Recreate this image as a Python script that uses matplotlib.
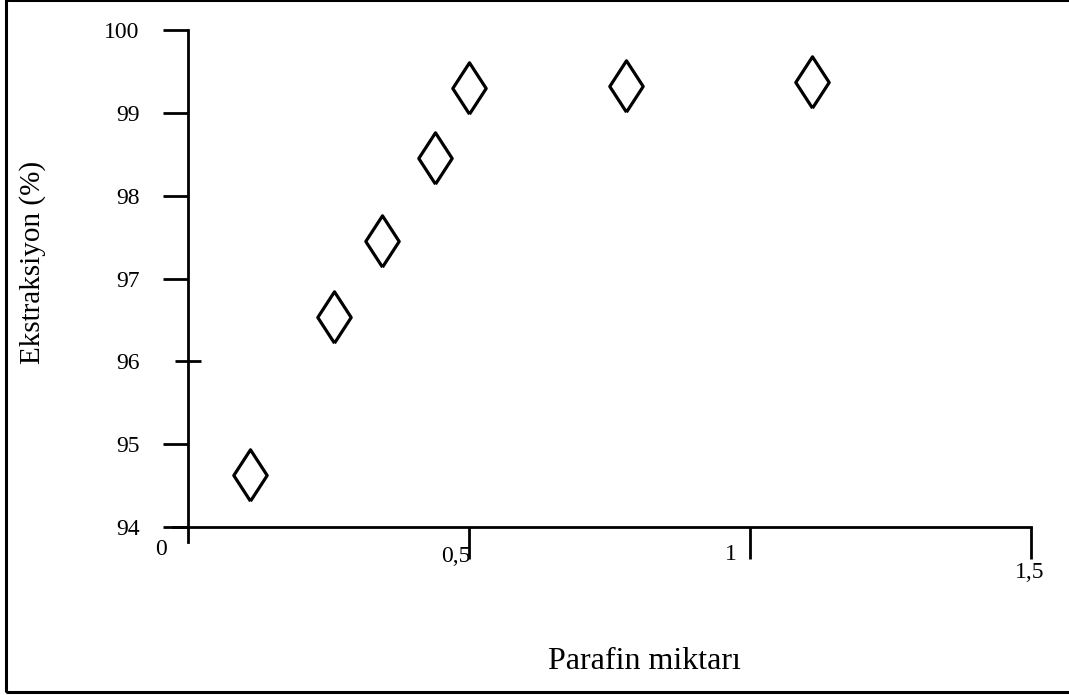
#Extraction efficiency vs. amount of paraffin
#coding: utf-8

import matplotlib
matplotlib.use("Agg")
import matplotlib.pyplot as plt
import matplotlib.patches as patches
import matplotlib.transforms as mtransforms

# paraffin amount and extraction (%)
parafin=[0.11,0.26,0.345,0.44,0.50,0.78,1.11]
ekstraksiyon=[94.63,96.54,97.45,98.45,99.30,99.32,99.37]

y_ticks=[94,95,96,97,98,99,100]
x_ticks=[0,0.5,1,1.5]
x_ticklabels=["0","0,5","1","1,5"]

plt.rcParams["font.family"]=["Liberation Serif","DejaVu Serif"]

# tall open diamond
elmas=[(0,-1),(0.65,0),(0,1),(-0.65,0),(0,-1)]

fig=plt.figure(figsize=(10.69,6.95),dpi=100)
ax=fig.add_axes([0.16183,0.22014,0.80262,0.73669])

ax.plot(parafin,ekstraksiyon,linestyle="none",marker=elmas,markersize=37,
        markerfacecolor="white",markeredgecolor="black",markeredgewidth=2.3)

ax.set_xlim(-0.027,1.5)
ax.set_ylim(93.82,100)

ax.spines["top"].set_visible(False)
ax.spines["right"].set_visible(False)
ax.spines["left"].set_position(("data",0))
ax.spines["bottom"].set_position(("data",94))
ax.spines["left"].set_linewidth(2)
ax.spines["bottom"].set_linewidth(2)

ax.set_yticks(y_ticks)
ax.set_yticklabels([str(v) for v in y_ticks])
ax.set_xticks(x_ticks)
ax.set_xticklabels(x_ticklabels)
ax.tick_params(axis="y",direction="out",length=18,width=2,pad=17,labelsize=17)
ax.tick_params(axis="x",direction="out",length=23,width=2,pad=0,labelsize=17)

# the 96 tick crosses the axis
t96=ax.yaxis.get_major_ticks()[2]
t96.tick1line.set_marker("_")
t96.tick1line.set_markersize(19)

# no tick mark at the origin, the y axis runs past it
ax.xaxis.get_major_ticks()[0].tick1line.set_visible(False)

# hand placed x tick labels (pixel offsets)
offsets=[(-27,-10),(-13,-3),(-19,-5),(-1,13)]
for lab,(dx,dy) in zip(ax.get_xticklabels(),offsets):
    lab.set_verticalalignment("center")
    lab.set_transform(lab.get_transform()+mtransforms.ScaledTranslation(dx/100.0,-dy/100.0,fig.dpi_scale_trans))

ax.set_ylabel("Ekstraksiyon (%)",fontsize=21)
ax.yaxis.set_label_coords(-0.1632,0.547)
ax.yaxis.label.set_verticalalignment("center")
ax.set_xlabel("Parafin miktarı",fontsize=23)
ax.xaxis.set_label_coords(0.549,-0.234)
ax.xaxis.label.set_verticalalignment("center")

# outer frame
frame=patches.Rectangle((6/1069.0,3/695.0),1.0,692/695.0,transform=fig.transFigure,
                        fill=False,edgecolor="black",linewidth=2.2,clip_on=False)
fig.patches.append(frame)

plt.savefig("out.png",dpi=100)
